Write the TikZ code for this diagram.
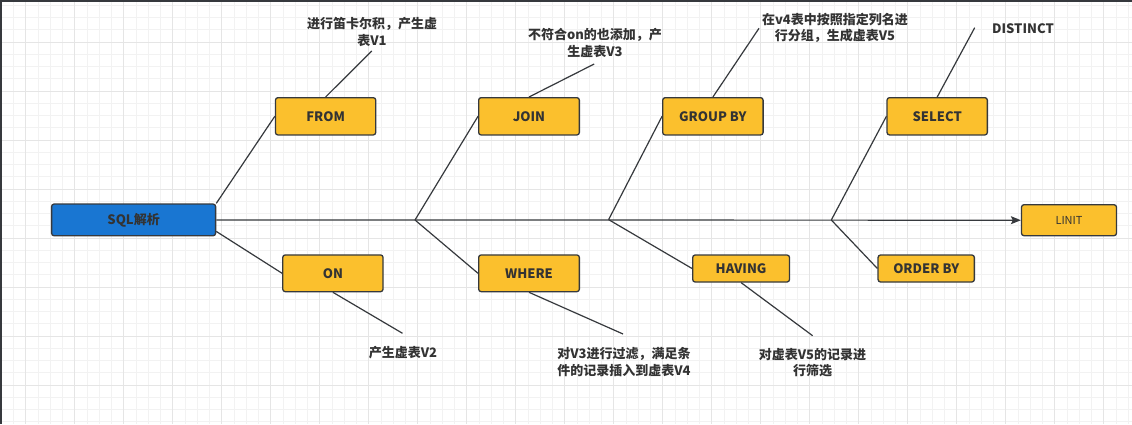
\documentclass[tikz,border=0pt]{standalone}
\usepackage{fontspec}
\setmainfont{Noto Sans CJK SC}
\usetikzlibrary{arrows.meta}
\definecolor{boxyellow}{HTML}{FBC02D}
\definecolor{boxblue}{HTML}{1976D2}
\definecolor{ink}{HTML}{333333}
\definecolor{edge}{HTML}{36393D}
\begin{document}
\begin{tikzpicture}[x=1pt, y=-1pt,
    box/.style={draw=edge, line width=1.3pt, fill=boxyellow, rounded corners=2.5pt,
      text=ink, font=\fontsize{13}{16}\selectfont\bfseries, inner sep=0pt},
    note/.style={text=ink, align=center, font=\fontsize{13}{16.5}\selectfont\bfseries},
    bone/.style={draw=edge, line width=1.2pt},
    minor/.style={draw=black!5, line width=0.8pt},
    major/.style={draw=black!10, line width=0.8pt}]
  \useasboundingbox (0,0) rectangle (1132,424);
  %grid
  \fill[white] (0,0) rectangle (1132,424);
  \foreach \i in {0,...,92}
    \draw[minor] ({1.2+12.25*\i},0) -- ({1.2+12.25*\i},424);
  \foreach \i in {0,...,34}
    \draw[minor] (0,{5.25+12.25*\i}) -- (1132,{5.25+12.25*\i});
  \foreach \i in {0,...,22}
    \draw[major] ({25.7+49*\i},0) -- ({25.7+49*\i},424);
  \foreach \i in {1,...,8}
    \draw[major] (0,{-7+49*\i}) -- (1132,{-7+49*\i});
  \fill[edge] (0,0) rectangle (1132,2.2);
  \fill[edge] (0,0) rectangle (2.4,424);
  %nodes
  \node[box, fill=boxblue, minimum width=164pt, minimum height=31.7pt] (sql) at (133.6,219.9) {SQL解析};
  \node[box, minimum width=100.3pt, minimum height=37.3pt] (from) at (325.6,116.3) {FROM};
  \node[box, minimum width=100.3pt, minimum height=36.7pt] (on) at (332.9,273.3) {ON};
  \node[box, minimum width=100.7pt, minimum height=37.3pt] (join) at (529,116.3) {JOIN};
  \node[box, minimum width=100.7pt, minimum height=36.7pt] (where) at (529,273.3) {WHERE};
  \node[box, minimum width=100.4pt, minimum height=37.3pt] (groupby) at (712.9,116.3) {GROUP BY};
  \node[box, minimum width=96.8pt, minimum height=27pt] (having) at (741.1,268.5) {HAVING};
  \node[box, minimum width=100.3pt, minimum height=37.3pt] (select) at (937.2,116.3) {SELECT};
  \node[box, minimum width=96.3pt, minimum height=27pt] (orderby) at (926.2,268.5) {ORDER BY};
  \node[box, minimum width=95pt, minimum height=31pt, font=\fontsize{11}{13}\selectfont] (limit) at (1069,220.2) {LINIT};
  %notes
  \node[note] (fromnote) at (372,32) {进行笛卡尔积，产生虚\\表V1};
  \node[note] (joinnote) at (595,43) {不符合on的也添加，产\\生虚表V3};
  \node[note] (groupbynote) at (835,28) {在v4表中按照指定列名进\\行分组，生成虚表V5};
  \node[note] (selectnote) at (1023,28.3) {DISTINCT};
  \node[note] (onnote) at (403,352.7) {产生虚表V2};
  \node[note] (wherenote) at (624,362) {对V3进行过滤，满足条\\件的记录插入到虚表V4};
  \node[note] (havingnote) at (812.5,362.5) {对虚表V5的记录进\\行筛选};
  %joints
  \coordinate (j1) at (415,220);
  \coordinate (j2) at (608.6,219.6);
  \coordinate (j3) at (831.3,220);
  \coordinate (fromend) at (371.8,51);
  \coordinate (joinend) at (594.2,64);
  \coordinate (groupbyend) at (759,28.3);
  \coordinate (selectend) at (974.7,27.7);
  \coordinate (onend) at (402.5,333.3);
  \coordinate (whereend) at (623,334);
  \coordinate (havingend) at (812.6,335.7);
  %edges
  \path[bone, -{Stealth[length=10pt, width=8pt, inset=2pt]}] (sql.east) to (limit.west);
  \path[bone] (sql.north east) to (from.west);
  \path[bone] ([yshift=5pt]sql.south east) to (on.west);
  \path[bone] (j1) to (join.west);
  \path[bone] (j1) to (where.west);
  \path[bone] (j2) to (groupby.west);
  \path[bone] (j2) to (having.west);
  \path[bone] (j3) to (select.west);
  \path[bone] (j3) to (orderby.west);
  \path[bone] (from.north) to (fromend);
  \path[bone] (join.north) to (joinend);
  \path[bone] (groupby.north) to (groupbyend);
  \path[bone] (select.north) to (selectend);
  \path[bone] (on.south) to (onend);
  \path[bone] (where.south) to (whereend);
  \path[bone] (having.south) to (havingend);
\end{tikzpicture}
\end{document}
